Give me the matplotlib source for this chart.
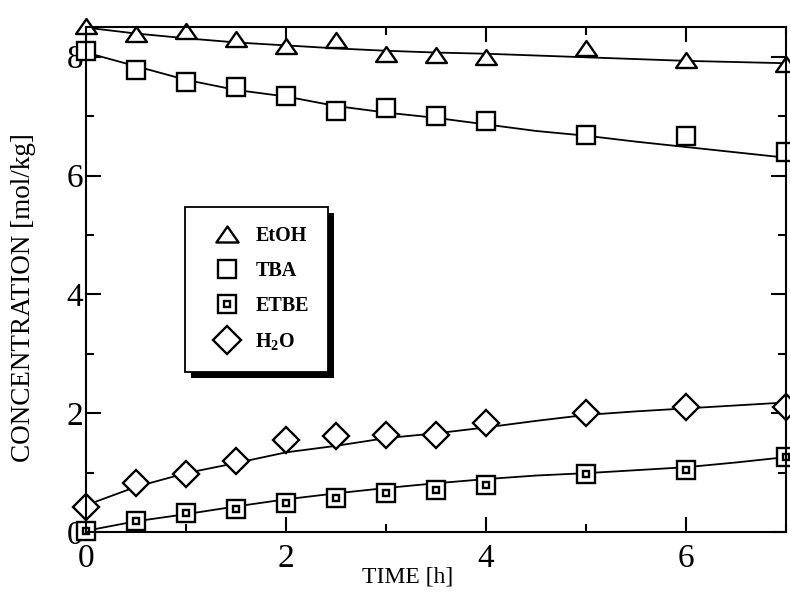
import numpy as np
import matplotlib
matplotlib.use("Agg")
import matplotlib.pyplot as plt
from matplotlib.lines import Line2D
from matplotlib.patches import Rectangle
from matplotlib.path import Path
from matplotlib.ticker import MultipleLocator

plt.rcParams['font.family'] = ['Liberation Serif', 'DejaVu Serif']
plt.rcParams['mathtext.fontset'] = 'custom'
plt.rcParams['mathtext.rm'] = 'Liberation Serif'
plt.rcParams['mathtext.bf'] = 'Liberation Serif:bold'

# measured points
time = [0, 0.5, 1, 1.5, 2, 2.5, 3, 3.5, 4, 5, 6, 7]
etoh = [8.52, 8.39, 8.44, 8.30, 8.18, 8.28, 8.05, 8.03, 8.00, 8.15, 7.95, 7.87]
tba = [8.09, 7.77, 7.58, 7.49, 7.34, 7.08, 7.13, 7.01, 6.92, 6.69, 6.66, 6.40]
etbe = [0.02, 0.18, 0.32, 0.39, 0.49, 0.57, 0.66, 0.71, 0.79, 0.97, 1.04, 1.26]
h2o = [0.42, 0.82, 0.98, 1.19, 1.55, 1.61, 1.63, 1.63, 1.83, 2.00, 2.10, 2.10]

# model curves
t_fit = [0, 0.5, 1, 1.5, 2, 2.5, 3, 3.5, 4, 4.5, 5, 5.5, 6, 6.5, 7]
etoh_fit = [8.49, 8.39, 8.31, 8.24, 8.19, 8.14, 8.10, 8.07, 8.05, 8.02, 7.99, 7.96, 7.93, 7.91, 7.89]
tba_fit = [8.07, 7.84, 7.61, 7.44, 7.33, 7.17, 7.06, 6.97, 6.86, 6.75, 6.67, 6.57, 6.48, 6.39, 6.30]
etbe_fit = [0.02, 0.18, 0.30, 0.43, 0.55, 0.65, 0.74, 0.82, 0.89, 0.95, 0.99, 1.04, 1.09, 1.17, 1.26]
h2o_fit = [0.45, 0.76, 0.99, 1.16, 1.34, 1.45, 1.58, 1.66, 1.76, 1.87, 1.97, 2.03, 2.08, 2.13, 2.18]

# slightly flattened open triangle
tri = Path([(-1, -0.72), (1, -0.72), (0, 0.72), (-1, -0.72)], closed=True)
mk = dict(linestyle='none', mfc='white', mec='black', mew=1.7, clip_on=False)

fig = plt.figure(figsize=(7.9, 5.92), dpi=100)
ax = fig.add_axes([0.1089, 0.1014, 0.8861, 0.8530])

for yf in [etoh_fit, tba_fit, etbe_fit, h2o_fit]:
    ax.plot(t_fit, yf, color='black', lw=1.3, clip_on=False)

ax.plot(time, etoh, marker=tri, ms=15, **mk)
ax.plot(time, tba, marker='s', ms=13.5, **mk)
ax.plot(time, etbe, marker='s', ms=12.5, **mk)
ax.plot(time, etbe, marker='s', ms=4.5, **mk)
ax.plot(time, h2o, marker='D', ms=13.5, **mk)

ax.set_xlim(0, 7)
ax.set_ylim(0, 8.5)
ax.xaxis.set_major_locator(MultipleLocator(2))
ax.xaxis.set_minor_locator(MultipleLocator(1))
ax.yaxis.set_major_locator(MultipleLocator(2))
ax.yaxis.set_minor_locator(MultipleLocator(1))
ax.tick_params(which='both', direction='in', top=True, right=True, width=1.5)
ax.tick_params(which='major', length=11, labelsize=24)
ax.tick_params(which='minor', length=6)
ax.tick_params(axis='x', pad=8)
ax.tick_params(axis='y', pad=2)
for s in ax.spines.values():
    s.set_linewidth(1.5)

ax.set_xlabel('TIME [h]', fontsize=17)
ax.set_ylabel('CONCENTRATION [mol/kg]', fontsize=19.5)
ax.xaxis.set_label_coords(0.459, -0.069)
ax.yaxis.set_label_coords(-0.072, 0.464)

h_etoh = Line2D([], [], marker=tri, ms=16, **mk)
h_tba = Line2D([], [], marker='s', ms=13.5, **mk)
h_etbe = (Line2D([], [], marker='s', ms=13, **mk), Line2D([], [], marker='s', ms=4.5, **mk))
h_h2o = Line2D([], [], marker='D', ms=14.5, **mk)
leg = ax.legend([h_etoh, h_tba, h_etbe, h_h2o],
                ['EtOH', 'TBA', 'ETBE', r'$\mathbf{H_2O}$'],
                loc='upper left', bbox_to_anchor=(0.1414, 0.6436), borderaxespad=0,
                prop={'weight': 'bold', 'size': 14.5}, fancybox=False, framealpha=1,
                edgecolor='black', borderpad=0.95, labelspacing=0.75,
                handlelength=2.3, handletextpad=0.25)
leg.get_frame().set_linewidth(1.3)
leg.set_zorder(5)

# drop shadow under the legend box
fig.canvas.draw()
bb = leg.get_window_extent()
(x0, y0), (x1, y1) = fig.transFigure.inverted().transform([[bb.x0 + 6, bb.y0 - 6], [bb.x1 + 6, bb.y1 - 6]])
ax.add_patch(Rectangle((x0, y0), x1 - x0, y1 - y0, transform=fig.transFigure,
                       facecolor='black', edgecolor='none', zorder=4.5, clip_on=False))

fig.savefig('out.png', dpi=100)
